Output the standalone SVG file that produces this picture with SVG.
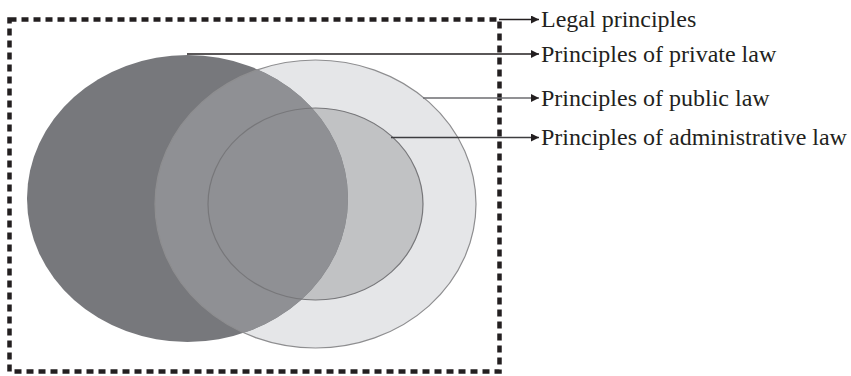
<svg xmlns="http://www.w3.org/2000/svg" width="851" height="376" viewBox="0 0 851 376">
<style>
.lbl{font-family:"Liberation Serif","Times New Roman",serif;font-size:24px;fill:#231f20}
.ln{fill:none;stroke-width:1.4}
</style>
<defs>
<marker id="ah" viewBox="0 0 8 8" refX="8" refY="4" markerWidth="8" markerHeight="8" markerUnits="userSpaceOnUse" orient="auto">
<path d="M0,0 L8,4 L0,8 Z" fill="#231f20"/>
</marker>
<clipPath id="cDark"><ellipse cx="187.5" cy="198.5" rx="160.5" ry="143.5"/></clipPath>
</defs>
<g id="public-law">
<ellipse cx="315.5" cy="204" rx="160.5" ry="144" fill="#e5e6e8"/>
</g>
<g id="administrative-law">
<ellipse cx="315.5" cy="204" rx="107.5" ry="96" fill="#c1c2c4"/>
</g>
<g id="private-law">
<ellipse cx="187.5" cy="198.5" rx="160.5" ry="143.5" fill="#77787c"/>
<ellipse cx="315.5" cy="204" rx="160.5" ry="144" fill="#8f9094" clip-path="url(#cDark)"/>
</g>
<g id="outlines">
<ellipse cx="315.5" cy="204" rx="160.5" ry="144" fill="none" stroke="#8e8e90" stroke-width="1.2"/>
<ellipse cx="315.5" cy="204" rx="107.5" ry="96" fill="none" stroke="#77777a" stroke-width="1.2"/>
</g>
<g id="legal-principles">
<rect x="9.5" y="19.5" width="490" height="352" fill="none" stroke="#231f20" stroke-width="4.5" stroke-dasharray="7 5"/>
</g>
<g id="connectors">
<line class="ln" x1="499" y1="19.5" x2="539" y2="19.5" stroke="#231f20" marker-end="url(#ah)"/>
<line class="ln" x1="187" y1="54" x2="539" y2="54" stroke="#231f20" marker-end="url(#ah)"/>
<line class="ln" x1="423" y1="98" x2="539" y2="98" stroke="#6d6d70" marker-end="url(#ah)"/>
<line class="ln" x1="391" y1="137.5" x2="539" y2="137.5" stroke="#3d3d40" marker-end="url(#ah)"/>
</g>
<g id="labels">
<text class="lbl" x="541" y="27">Legal principles</text>
<text class="lbl" x="541" y="62">Principles of private law</text>
<text class="lbl" x="541" y="106">Principles of public law</text>
<text class="lbl" x="541" y="145">Principles of administrative law</text>
</g>
</svg>
